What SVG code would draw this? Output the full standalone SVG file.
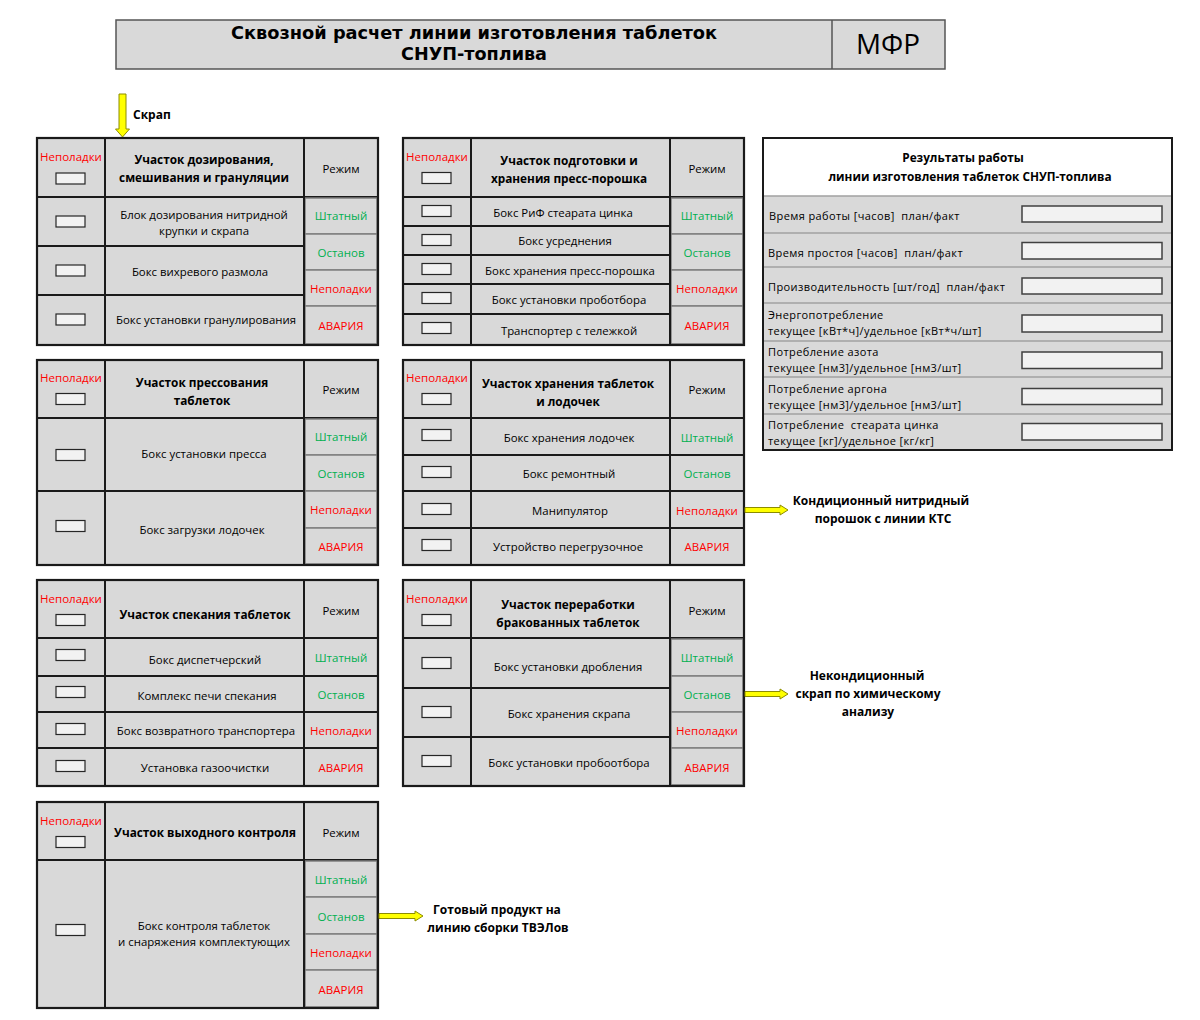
<svg xmlns="http://www.w3.org/2000/svg" width="1200" height="1020" viewBox="0 0 1200 1020">
<defs>
<style>
.bg{fill:#ffffff}
.c{fill:#d9d9d9;stroke:#1a1a1a;stroke-width:2}
.m{fill:#d9d9d9;stroke:#7f7f7f;stroke-width:1.5}
.o{fill:none;stroke:#1a1a1a;stroke-width:2.2}
.ind{fill:#f2f2f2;stroke:#262626;stroke-width:1.2}
.t{font-family:'Open Sans','DejaVu Sans',sans-serif;font-size:11.4px;fill:#000;text-anchor:middle;dominant-baseline:central}
.h{font-weight:bold;font-size:11.8px}
.g{fill:#00b050;font-size:11.5px}
.r{fill:#ff0000;font-size:11.5px}
.l{text-anchor:start}
.rt{font-size:11px;letter-spacing:0.4px;white-space:pre}
.lab{font-weight:bold;font-size:12px}
.arr{fill:#ffff00;stroke:#8c8c00;stroke-width:1}
.rp{fill:#d9d9d9}
.sep{stroke:#a0a0a0;stroke-width:1.5}
.inp{fill:#f2f2f2;stroke:#404040;stroke-width:1.5}
</style>
</defs>
<rect class="bg" x="0" y="0" width="1200" height="1020"/>

<g id="title">
<rect x="116" y="20" width="829" height="49" fill="#d9d9d9" stroke="#555" stroke-width="1.5"/>
<line x1="832" y1="20" x2="832" y2="69" stroke="#555" stroke-width="1.5"/>
<text x="474" y="32.5" text-anchor="middle" dominant-baseline="central" font-family="'DejaVu Sans Condensed','DejaVu Sans',sans-serif" font-stretch="condensed" font-weight="bold" font-size="17.8" textLength="486" lengthAdjust="spacingAndGlyphs">Сквозной расчет линии изготовления таблеток</text>
<text x="474" y="53" text-anchor="middle" dominant-baseline="central" font-family="'DejaVu Sans Condensed','DejaVu Sans',sans-serif" font-stretch="condensed" font-weight="bold" font-size="17.8" textLength="146" lengthAdjust="spacingAndGlyphs">СНУП-топлива</text>
<text x="888" y="43" text-anchor="middle" dominant-baseline="central" font-family="'Open Sans','DejaVu Sans',sans-serif" font-size="27" textLength="64" lengthAdjust="spacingAndGlyphs">МФР</text>
</g>

<g id="block-dosing">
<rect class="c" x="37" y="138" width="68" height="59"/>
<rect class="c" x="37" y="197" width="68" height="49"/>
<rect class="c" x="37" y="246" width="68" height="49"/>
<rect class="c" x="37" y="295" width="68" height="50"/>
<rect class="c" x="105" y="138" width="199" height="59"/>
<rect class="c" x="105" y="197" width="199" height="49"/>
<rect class="c" x="105" y="246" width="199" height="49"/>
<rect class="c" x="105" y="295" width="199" height="50"/>
<rect class="c" x="304" y="138" width="74" height="59"/>
<rect class="m" x="305" y="198" width="72" height="36"/>
<rect class="m" x="305" y="234" width="72" height="36"/>
<rect class="m" x="305" y="270" width="72" height="36"/>
<rect class="m" x="305" y="306" width="72" height="38"/>
<rect class="o" x="37" y="138" width="341" height="207"/>
<line x1="304" y1="138" x2="304" y2="345" stroke="#1a1a1a" stroke-width="2"/>
<rect class="ind" x="56" y="173" width="29" height="11"/>
<rect class="ind" x="56" y="216" width="29" height="11"/>
<rect class="ind" x="56" y="265" width="29" height="11"/>
<rect class="ind" x="56" y="314" width="29" height="11"/>
<text class="t r" x="71" y="156">Неполадки</text>
<text class="t h" x="204" y="159">Участок дозирования,</text>
<text class="t h" x="204" y="177">смешивания и грануляции</text>
<text class="t" x="341" y="168">Режим</text>
<text class="t" x="204" y="214">Блок дозирования нитридной</text>
<text class="t" x="204" y="230">крупки и скрапа</text>
<text class="t" x="200" y="271">Бокс вихревого размола</text>
<text class="t" x="206" y="319">Бокс установки гранулирования</text>
<text class="t g" x="341" y="215">Штатный</text>
<text class="t g" x="341" y="252">Останов</text>
<text class="t r" x="341" y="288">Неполадки</text>
<text class="t r" x="341" y="325">АВАРИЯ</text>
</g>

<g id="block-press-powder">
<rect class="c" x="403" y="138" width="68" height="59"/>
<rect class="c" x="403" y="197" width="68" height="29"/>
<rect class="c" x="403" y="226" width="68" height="29"/>
<rect class="c" x="403" y="255" width="68" height="29"/>
<rect class="c" x="403" y="284" width="68" height="30"/>
<rect class="c" x="403" y="314" width="68" height="31"/>
<rect class="c" x="471" y="138" width="199" height="59"/>
<rect class="c" x="471" y="197" width="199" height="29"/>
<rect class="c" x="471" y="226" width="199" height="29"/>
<rect class="c" x="471" y="255" width="199" height="29"/>
<rect class="c" x="471" y="284" width="199" height="30"/>
<rect class="c" x="471" y="314" width="199" height="31"/>
<rect class="c" x="670" y="138" width="74" height="59"/>
<rect class="m" x="671" y="198" width="72" height="36"/>
<rect class="m" x="671" y="234" width="72" height="36"/>
<rect class="m" x="671" y="270" width="72" height="36"/>
<rect class="m" x="671" y="306" width="72" height="38"/>
<rect class="o" x="403" y="138" width="341" height="207"/>
<line x1="670" y1="138" x2="670" y2="345" stroke="#1a1a1a" stroke-width="2"/>
<rect class="ind" x="422" y="172.5" width="29" height="11"/>
<rect class="ind" x="422" y="205.5" width="29" height="11"/>
<rect class="ind" x="422" y="234.5" width="29" height="11"/>
<rect class="ind" x="422" y="263.5" width="29" height="11"/>
<rect class="ind" x="422" y="292.5" width="29" height="11"/>
<rect class="ind" x="422" y="322.5" width="29" height="11"/>
<text class="t r" x="437" y="156">Неполадки</text>
<text class="t h" x="569" y="160">Участок подготовки и</text>
<text class="t h" x="569" y="178">хранения пресс-порошка</text>
<text class="t" x="707" y="168">Режим</text>
<text class="t" x="563" y="212">Бокс РиФ стеарата цинка</text>
<text class="t" x="565" y="240">Бокс усреднения</text>
<text class="t" x="570" y="270">Бокс хранения пресс-порошка</text>
<text class="t" x="569" y="299">Бокс установки проботбора</text>
<text class="t" x="569" y="330">Транспортер с тележкой</text>
<text class="t g" x="707" y="215">Штатный</text>
<text class="t g" x="707" y="252">Останов</text>
<text class="t r" x="707" y="288">Неполадки</text>
<text class="t r" x="707" y="325">АВАРИЯ</text>
</g>

<g id="block-pressing">
<rect class="c" x="37" y="360" width="68" height="58"/>
<rect class="c" x="37" y="418" width="68" height="73"/>
<rect class="c" x="37" y="491" width="68" height="74"/>
<rect class="c" x="105" y="360" width="199" height="58"/>
<rect class="c" x="105" y="418" width="199" height="73"/>
<rect class="c" x="105" y="491" width="199" height="74"/>
<rect class="c" x="304" y="360" width="74" height="58"/>
<rect class="m" x="305" y="419" width="72" height="36"/>
<rect class="m" x="305" y="455" width="72" height="36"/>
<rect class="m" x="305" y="491" width="72" height="37"/>
<rect class="m" x="305" y="528" width="72" height="36"/>
<rect class="o" x="37" y="360" width="341" height="205"/>
<line x1="304" y1="360" x2="304" y2="565" stroke="#1a1a1a" stroke-width="2"/>
<rect class="ind" x="56" y="393.5" width="29" height="11"/>
<rect class="ind" x="56" y="449.5" width="29" height="11"/>
<rect class="ind" x="56" y="520.5" width="29" height="11"/>
<text class="t r" x="71" y="377">Неполадки</text>
<text class="t h" x="202" y="382">Участок прессования</text>
<text class="t h" x="202" y="400">таблеток</text>
<text class="t" x="341" y="389">Режим</text>
<text class="t" x="204" y="453">Бокс установки пресса</text>
<text class="t" x="202" y="529">Бокс загрузки лодочек</text>
<text class="t g" x="341" y="436">Штатный</text>
<text class="t g" x="341" y="473">Останов</text>
<text class="t r" x="341" y="509">Неполадки</text>
<text class="t r" x="341" y="546">АВАРИЯ</text>
</g>

<g id="block-tablet-storage">
<rect class="c" x="403" y="360" width="68" height="58"/>
<rect class="c" x="403" y="418" width="68" height="37"/>
<rect class="c" x="403" y="455" width="68" height="36"/>
<rect class="c" x="403" y="491" width="68" height="37"/>
<rect class="c" x="403" y="528" width="68" height="37"/>
<rect class="c" x="471" y="360" width="199" height="58"/>
<rect class="c" x="471" y="418" width="199" height="37"/>
<rect class="c" x="471" y="455" width="199" height="36"/>
<rect class="c" x="471" y="491" width="199" height="37"/>
<rect class="c" x="471" y="528" width="199" height="37"/>
<rect class="c" x="670" y="360" width="74" height="58"/>
<rect class="c" x="670" y="418" width="74" height="37"/>
<rect class="c" x="670" y="455" width="74" height="36"/>
<rect class="c" x="670" y="491" width="74" height="37"/>
<rect class="c" x="670" y="528" width="74" height="37"/>
<rect class="o" x="403" y="360" width="341" height="205"/>
<rect class="ind" x="422" y="393.5" width="29" height="11"/>
<rect class="ind" x="422" y="429.5" width="29" height="11"/>
<rect class="ind" x="422" y="466.5" width="29" height="11"/>
<rect class="ind" x="422" y="503.5" width="29" height="11"/>
<rect class="ind" x="422" y="539.5" width="29" height="11"/>
<text class="t r" x="437" y="377">Неполадки</text>
<text class="t h" x="568" y="383">Участок хранения таблеток</text>
<text class="t h" x="568" y="401">и лодочек</text>
<text class="t" x="707" y="389">Режим</text>
<text class="t" x="569" y="437">Бокс хранения лодочек</text>
<text class="t" x="569" y="473">Бокс ремонтный</text>
<text class="t" x="570" y="510">Манипулятор</text>
<text class="t" x="568" y="546">Устройство перегрузочное</text>
<text class="t g" x="707" y="437">Штатный</text>
<text class="t g" x="707" y="473">Останов</text>
<text class="t r" x="707" y="510">Неполадки</text>
<text class="t r" x="707" y="546">АВАРИЯ</text>
</g>

<g id="block-sintering">
<rect class="c" x="37" y="580" width="68" height="58"/>
<rect class="c" x="37" y="638" width="68" height="38"/>
<rect class="c" x="37" y="676" width="68" height="36"/>
<rect class="c" x="37" y="712" width="68" height="36"/>
<rect class="c" x="37" y="748" width="68" height="38"/>
<rect class="c" x="105" y="580" width="199" height="58"/>
<rect class="c" x="105" y="638" width="199" height="38"/>
<rect class="c" x="105" y="676" width="199" height="36"/>
<rect class="c" x="105" y="712" width="199" height="36"/>
<rect class="c" x="105" y="748" width="199" height="38"/>
<rect class="c" x="304" y="580" width="74" height="58"/>
<rect class="c" x="304" y="638" width="74" height="38"/>
<rect class="c" x="304" y="676" width="74" height="36"/>
<rect class="c" x="304" y="712" width="74" height="36"/>
<rect class="c" x="304" y="748" width="74" height="38"/>
<rect class="o" x="37" y="580" width="341" height="206"/>
<rect class="ind" x="56" y="614.5" width="29" height="11"/>
<rect class="ind" x="56" y="649.5" width="29" height="11"/>
<rect class="ind" x="56" y="686.5" width="29" height="11"/>
<rect class="ind" x="56" y="723.5" width="29" height="11"/>
<rect class="ind" x="56" y="760.5" width="29" height="11"/>
<text class="t r" x="71" y="598">Неполадки</text>
<text class="t h" x="205" y="614">Участок спекания таблеток</text>
<text class="t" x="341" y="610">Режим</text>
<text class="t" x="205" y="659">Бокс диспетчерский</text>
<text class="t" x="207" y="695">Комплекс печи спекания</text>
<text class="t" x="206" y="730">Бокс возвратного транспортера</text>
<text class="t" x="205" y="767">Установка газоочистки</text>
<text class="t g" x="341" y="657">Штатный</text>
<text class="t g" x="341" y="694">Останов</text>
<text class="t r" x="341" y="730">Неполадки</text>
<text class="t r" x="341" y="767">АВАРИЯ</text>
</g>

<g id="block-rework">
<rect class="c" x="403" y="580" width="68" height="58"/>
<rect class="c" x="403" y="638" width="68" height="50"/>
<rect class="c" x="403" y="688" width="68" height="49"/>
<rect class="c" x="403" y="737" width="68" height="49"/>
<rect class="c" x="471" y="580" width="199" height="58"/>
<rect class="c" x="471" y="638" width="199" height="50"/>
<rect class="c" x="471" y="688" width="199" height="49"/>
<rect class="c" x="471" y="737" width="199" height="49"/>
<rect class="c" x="670" y="580" width="74" height="58"/>
<rect class="m" x="671" y="639" width="72" height="37"/>
<rect class="m" x="671" y="676" width="72" height="36"/>
<rect class="m" x="671" y="712" width="72" height="36"/>
<rect class="m" x="671" y="748" width="72" height="37"/>
<rect class="o" x="403" y="580" width="341" height="206"/>
<line x1="670" y1="580" x2="670" y2="786" stroke="#1a1a1a" stroke-width="2"/>
<rect class="ind" x="422" y="614.5" width="29" height="11"/>
<rect class="ind" x="422" y="657.5" width="29" height="11"/>
<rect class="ind" x="422" y="706.5" width="29" height="11"/>
<rect class="ind" x="422" y="755.5" width="29" height="11"/>
<text class="t r" x="437" y="598">Неполадки</text>
<text class="t h" x="568" y="604">Участок переработки</text>
<text class="t h" x="568" y="622">бракованных таблеток</text>
<text class="t" x="707" y="610">Режим</text>
<text class="t" x="568" y="666">Бокс установки дробления</text>
<text class="t" x="569" y="713">Бокс хранения скрапа</text>
<text class="t" x="569" y="762">Бокс установки пробоотбора</text>
<text class="t g" x="707" y="657">Штатный</text>
<text class="t g" x="707" y="694">Останов</text>
<text class="t r" x="707" y="730">Неполадки</text>
<text class="t r" x="707" y="767">АВАРИЯ</text>
</g>

<g id="block-output-control">
<rect class="c" x="37" y="802" width="68" height="58"/>
<rect class="c" x="37" y="860" width="68" height="148"/>
<rect class="c" x="105" y="802" width="199" height="58"/>
<rect class="c" x="105" y="860" width="199" height="148"/>
<rect class="c" x="304" y="802" width="74" height="58"/>
<rect class="m" x="305" y="861" width="72" height="36"/>
<rect class="m" x="305" y="897" width="72" height="37"/>
<rect class="m" x="305" y="934" width="72" height="36"/>
<rect class="m" x="305" y="970" width="72" height="37"/>
<rect class="o" x="37" y="802" width="341" height="206"/>
<line x1="304" y1="802" x2="304" y2="1008" stroke="#1a1a1a" stroke-width="2"/>
<rect class="ind" x="56" y="836.5" width="29" height="11"/>
<rect class="ind" x="56" y="924.5" width="29" height="11"/>
<text class="t r" x="71" y="820">Неполадки</text>
<text class="t h" x="205" y="832">Участок выходного контроля</text>
<text class="t" x="341" y="832">Режим</text>
<text class="t" x="204" y="925">Бокс контроля таблеток</text>
<text class="t" x="204" y="941">и снаряжения комплектующих</text>
<text class="t g" x="341" y="879">Штатный</text>
<text class="t g" x="341" y="916">Останов</text>
<text class="t r" x="341" y="952">Неполадки</text>
<text class="t r" x="341" y="989">АВАРИЯ</text>
</g>

<g id="results">
<rect x="763" y="138" width="409" height="312" fill="#ffffff"/>
<rect class="rp" x="763" y="196" width="409" height="254"/>
<line class="sep" x1="763" y1="196" x2="1172" y2="196"/>
<line class="sep" x1="763" y1="233" x2="1172" y2="233"/>
<line class="sep" x1="763" y1="267" x2="1172" y2="267"/>
<line class="sep" x1="763" y1="303" x2="1172" y2="303"/>
<line class="sep" x1="763" y1="341" x2="1172" y2="341"/>
<line class="sep" x1="763" y1="377" x2="1172" y2="377"/>
<line class="sep" x1="763" y1="414" x2="1172" y2="414"/>
<rect x="763" y="138" width="409" height="312" fill="none" stroke="#1a1a1a" stroke-width="2"/>
<text class="t h" x="963" y="157">Результаты работы</text>
<text class="t h" x="970" y="176">линии изготовления таблеток СНУП-топлива</text>
<rect class="inp" x="1022" y="206" width="140" height="16"/>
<rect class="inp" x="1022" y="242.5" width="140" height="16.5"/>
<rect class="inp" x="1022" y="278" width="140" height="16"/>
<rect class="inp" x="1022" y="315" width="140" height="17"/>
<rect class="inp" x="1022" y="352" width="140" height="16.5"/>
<rect class="inp" x="1022" y="388.5" width="140" height="16"/>
<rect class="inp" x="1022" y="423.5" width="140" height="16.5"/>
<text class="t l rt" x="769" y="215" xml:space="preserve">Время работы [часов]  план/факт</text>
<text class="t l rt" x="768" y="252" xml:space="preserve">Время простоя [часов]  план/факт</text>
<text class="t l rt" x="768" y="286" xml:space="preserve">Производительность [шт/год]  план/факт</text>
<text class="t l rt" x="768" y="314">Энергопотребление</text>
<text class="t l rt" x="768" y="330">текущее [кВт*ч]/удельное [кВт*ч/шт]</text>
<text class="t l rt" x="768" y="351">Потребление азота</text>
<text class="t l rt" x="768" y="367">текущее [нм3]/удельное [нм3/шт]</text>
<text class="t l rt" x="768" y="388">Потребление аргона</text>
<text class="t l rt" x="768" y="404">текущее [нм3]/удельное [нм3/шт]</text>
<text class="t l rt" x="768" y="424" xml:space="preserve">Потребление  стеарата цинка</text>
<text class="t l rt" x="768" y="440">текущее [кг]/удельное [кг/кг]</text>
</g>

<g id="label-scrap">
<text class="t lab l" x="133" y="114">Скрап</text>
</g>
<g id="label-kts">
<text class="t lab" x="881" y="500">Кондиционный нитридный</text>
<text class="t lab" x="883" y="518">порошок с линии КТС</text>
</g>
<g id="label-nonconforming">
<text class="t lab" x="867" y="675">Некондиционный</text>
<text class="t lab" x="868" y="693">скрап по химическому</text>
<text class="t lab" x="868" y="711">анализу</text>
</g>
<g id="label-product">
<text class="t lab" x="497" y="909">Готовый продукт на</text>
<text class="t lab" x="498" y="927">линию сборки ТВЭЛов</text>
</g>

<g id="connectors">
<path class="arr" d="M119,94 H126 V129 H129.5 L122.5,137 L115.5,129 H119 Z"/>
<path class="arr" d="M745,507.5 H780 V505 L788,510 L780,515 V512.5 H745 Z"/>
<path class="arr" d="M745,691.5 H780 V689 L788,694 L780,699 V696.5 H745 Z"/>
<path class="arr" d="M379,913.5 H415 V911 L423,916 L415,921 V918.5 H379 Z"/>
</g>
</svg>
